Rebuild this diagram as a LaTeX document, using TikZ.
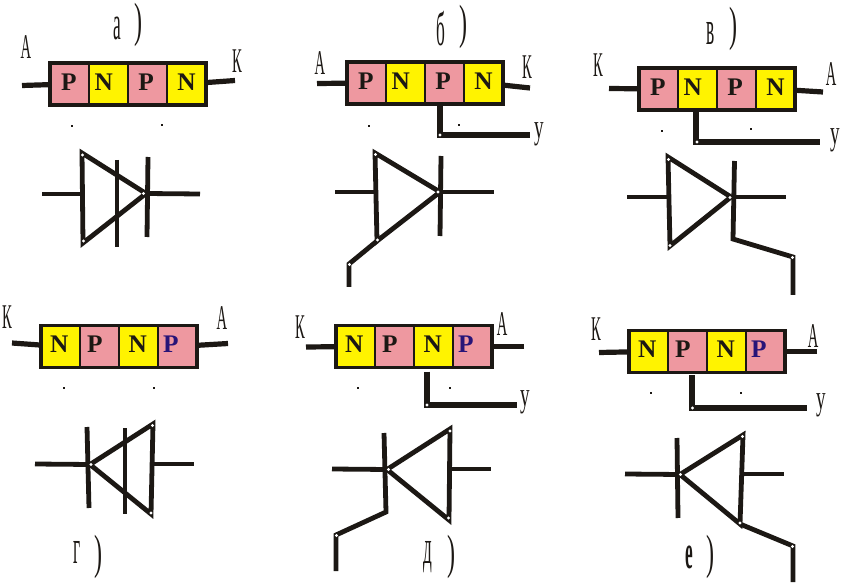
\documentclass[tikz,border=0pt]{standalone}
\usepackage{fontspec}
\setmainfont{Liberation Serif}
\definecolor{pk}{RGB}{238,152,160}
\definecolor{yl}{RGB}{255,243,0}
\definecolor{ink}{RGB}{28,24,20}
\definecolor{bl}{RGB}{40,20,120}
\newcommand{\cnd}[2]{\scalebox{#1}[1]{#2}}
\newcommand{\ltr}[2]{\raisebox{3pt}{\kern-#1pt #2\kern#1pt}}
\tikzset{
  x=0.75pt,y=-0.75pt,
  wire/.style={draw=ink,line width=3.9pt,line cap=butt,line join=miter},
  sym/.style={draw=ink,line width=3.6pt,line cap=butt,line join=miter},
  cell/.style={draw=ink,line width=1.6pt,minimum width=29.2pt,minimum height=31.5pt,inner sep=0pt,outer sep=0pt,font=\bfseries\fontsize{19}{19}\selectfont,text=ink},
  pcell/.style={cell,fill=pk},
  ncell/.style={cell,fill=yl},
  bcell/.style={cell,fill=pk,text=bl},
  frame/.style={draw=ink,line width=2.6pt},
  pole/.style={inner sep=0pt,text=ink,font=\fontsize{26}{26}\selectfont},
  gatel/.style={inner sep=0pt,text=ink,font=\fontsize{26}{26}\selectfont},
  capt/.style={inner sep=0pt,text=ink,font=\fontsize{36}{36}\selectfont},
  tick/.style={inner sep=0pt,minimum size=1.6pt,fill=ink},
  pin/.style={fill=white},
}
\newcommand{\upperrow}[3]{%
  \node[pcell] (#11) at (#2+19.5,#3+21) {\ltr{0.5}{P}};
  \node[ncell] (#12) at (#2+58.5,#3+21) {\ltr{3.5}{N}};
  \node[pcell] (#13) at (#2+97.5,#3+21) {\ltr{1}{P}};
  \node[ncell] (#14) at (#2+136.5,#3+21) {\ltr{0}{N}};
  \draw[frame] (#11.north west) rectangle (#14.south east);}
\newcommand{\lowerrow}[3]{%
  \node[ncell] (#11) at (#2+19.5,#3+21.5) {\ltr{1}{N}};
  \node[pcell] (#12) at (#2+58.5,#3+21.5) {\ltr{3.5}{P}};
  \node[ncell] (#13) at (#2+97.5,#3+21.5) {\ltr{0.5}{N}};
  \node[bcell] (#14) at (#2+136.5,#3+21.5) {\ltr{5}{P}};
  \draw[frame] (#11.north west) rectangle (#14.south east);}
\newcommand{\pins}[1]{\foreach \px/\py in {#1} {\fill[pin] (\px,\py) circle[radius=1.2pt];}}
\begin{document}
\begin{tikzpicture}
\useasboundingbox (0,0) rectangle (856,584);
\fill[white] (0,0) rectangle (856,584);

% ---------- a
\upperrow{a}{50}{63}
\coordinate (aL) at (22,85.5); \coordinate (aR) at (235,80.5);
\draw[wire] (aL) -- (a1); \draw[wire] (aR) -- (a4);
\node[pole] (aA) at (26,47) {\cnd{.42}{А}};
\node[pole] (aK) at (237,61) {\cnd{.42}{К}};
\node[capt] (aC) at (117,28) {\cnd{.36}{а}};
\node[capt] (aP) at (138,25) {\cnd{.5}{)}};
\node[tick] (ad1) at (72,126) {}; \node[tick] (ad2) at (162,125) {};
% symbol a
\coordinate (aT) at (82,153); \coordinate (aB) at (83,243); \coordinate (aX) at (146,193.5);
\coordinate (aE1) at (42,194); \coordinate (aE2) at (200,194);
\coordinate (aS1) at (117,160); \coordinate (aS2) at (117,247);
\coordinate (aS3) at (148,157); \coordinate (aS4) at (147,237);
\draw[sym] (aT) -- (aX) -- (aB) -- cycle;
\draw[sym] (aE1) -- (aT |- aE1); \draw[sym] (aX) -- (aE2);
\draw[sym] (aS1) -- (aS2); \draw[sym] (aS3) -- (aS4);
\pins{82.5/155, 83.5/241, 143.5/193.5}

% ---------- b
\upperrow{b}{347}{62}
\coordinate (bL) at (317,83.5); \coordinate (bR) at (530,88);
\draw[wire] (bL) -- (b1); \draw[wire] (bR) -- (b4);
\coordinate (bE) at (440,135); \coordinate (bY) at (530,135);
\draw[wire] (b3.south -| bE) -- (bE) -- (bY);
\node[pole] (bA) at (320,63) {\cnd{.42}{А}};
\node[pole] (bK) at (527,67) {\cnd{.42}{К}};
\node[gatel] (bU) at (539,134) {\cnd{.55}{у}};
\node[capt] (bC) at (441,29) {\cnd{.36}{б}};
\node[capt] (bP) at (463,27) {\cnd{.5}{)}};
\node[tick] (bd1) at (369,126) {}; \node[tick] (bd2) at (459,125) {};
% symbol b
\coordinate (bT) at (375,153); \coordinate (bB) at (377,241); \coordinate (bX) at (440,192);
\coordinate (bE1) at (335,192); \coordinate (bE2) at (494,192);
\coordinate (bS1) at (441,156); \coordinate (bS2) at (440,236);
\coordinate (bG1) at (349,264); \coordinate (bG2) at (349,287);
\draw[sym] (bT) -- (bX) -- (bB) -- cycle;
\draw[sym] (bE1) -- (bT |- bE1); \draw[sym] (bX) -- (bE2);
\draw[sym] (bS1) -- (bS2);
\draw[sym] (bB) -- (bG1) -- (bG2);
\pins{375.5/154.5, 377.5/240, 438/192, 440/135, 349.5/264.5}

% ---------- v
\upperrow{c}{639}{68}
\coordinate (cL) at (609,88.5); \coordinate (cR) at (823,92);
\draw[wire] (cL) -- (c1); \draw[wire] (cR) -- (c4);
\coordinate (cE) at (696,142); \coordinate (cY) at (820,142);
\draw[wire] (c2.south -| cE) -- (cE) -- (cY);
\node[pole] (cK) at (598,65) {\cnd{.42}{К}};
\node[pole] (cA) at (831,74) {\cnd{.42}{А}};
\node[gatel] (cU) at (835,140) {\cnd{.55}{у}};
\node[capt] (cC) at (711,33) {\cnd{.36}{в}};
\node[capt] (cP) at (733,29) {\cnd{.5}{)}};
\node[tick] (cd1) at (662,131) {}; \node[tick] (cd2) at (751,129) {};
% symbol v
\coordinate (cT) at (668,157); \coordinate (cB) at (670,246); \coordinate (cX) at (731,197);
\coordinate (cE1) at (627,197); \coordinate (cE2) at (786,197);
\coordinate (cS1) at (734.5,161); \coordinate (cS2) at (733,239);
\coordinate (cG1) at (793,257); \coordinate (cG2) at (793,295);
\draw[sym] (cT) -- (cX) -- (cB) -- cycle;
\draw[sym] (cE1) -- (cT |- cE1); \draw[sym] (cX) -- (cE2);
\draw[sym] (cS1) -- (cS2) -- (cG1) -- (cG2);
\pins{668.5/159.5, 670/245.5, 730/197.5, 697/142, 792.5/257.5}

% ---------- g
\lowerrow{d}{41}{325}
\coordinate (dL) at (12,343); \coordinate (dR) at (228,343.5);
\draw[wire] (dL) -- (d1); \draw[wire] (dR) -- (d4);
\node[pole] (dK) at (7,317) {\cnd{.42}{К}};
\node[pole] (dA) at (222,318) {\cnd{.42}{А}};
\node[capt] (dC) at (77,552) {\cnd{.36}{г}};
\node[capt] (dP) at (98,557) {\cnd{.5}{)}};
\node[tick] (dd1) at (64,388) {}; \node[tick] (dd2) at (154,388) {};
% symbol g
\coordinate (dT) at (153,424); \coordinate (dB) at (151,514); \coordinate (dX) at (90,464.5);
\coordinate (dE1) at (35,464); \coordinate (dE2) at (194,464);
\coordinate (dS1) at (87,427); \coordinate (dS2) at (89,508);
\coordinate (dS3) at (125,428); \coordinate (dS4) at (125,514);
\draw[sym] (dT) -- (dX) -- (dB) -- cycle;
\draw[sym] (dE1) -- (dX); \draw[sym] (dT |- dE2) -- (dE2);
\draw[sym] (dS1) -- (dS2); \draw[sym] (dS3) -- (dS4);
\pins{152.5/425.5, 151/513, 91/464.5}

% ---------- d
\lowerrow{e}{336}{325}
\coordinate (eL) at (306,347); \coordinate (eR) at (524,346.5);
\draw[wire] (eL) -- (e1); \draw[wire] (eR) -- (e4);
\coordinate (eE) at (427,405); \coordinate (eY) at (517,405);
\draw[wire,shorten <=3pt] (e3.south -| eE) -- (eE) -- (eY);
\node[pole] (eK) at (300,327) {\cnd{.42}{К}};
\node[pole] (eA) at (502,324) {\cnd{.42}{А}};
\node[gatel] (eU) at (525,402) {\cnd{.55}{у}};
\node[capt] (eC) at (428,557) {\cnd{.36}{д}};
\node[capt] (eP) at (451,557) {\cnd{.5}{)}};
\node[tick] (ed1) at (358,388) {}; \node[tick] (ed2) at (450,388) {};
% symbol d
\coordinate (eT) at (450,429); \coordinate (eB) at (449,520); \coordinate (eX) at (387,469.5);
\coordinate (eE1) at (332,469); \coordinate (eE2) at (491,469);
\coordinate (eS1) at (384,433); \coordinate (eS2) at (386,512);
\coordinate (eG1) at (336,535); \coordinate (eG2) at (336,571);
\draw[sym] (eT) -- (eX) -- (eB) -- cycle;
\draw[sym] (eE1) -- (eX); \draw[sym] (eT |- eE2) -- (eE2);
\draw[sym] (eS1) -- (eS2) -- (eG1) -- (eG2);
\pins{450/431, 448.5/518, 388.5/469.5, 427/405, 336.5/535.5}

% ---------- e
\lowerrow{f}{629}{330}
\coordinate (fL) at (599,352.5); \coordinate (fR) at (817,351.5);
\draw[wire] (fL) -- (f1); \draw[wire] (fR) -- (f4);
\coordinate (fE) at (692,408); \coordinate (fY) at (807,408);
\draw[wire,shorten <=2pt] (f2.south -| fE) -- (fE) -- (fY);
\node[pole] (fK) at (596,329) {\cnd{.42}{К}};
\node[pole] (fA) at (813,336) {\cnd{.42}{А}};
\node[gatel] (fU) at (821,405) {\cnd{.55}{у}};
\node[capt] (fC) at (689,557) {\bfseries\cnd{.36}{е}};
\node[capt] (fP) at (710,557) {\cnd{.5}{)}};
\node[tick] (fd1) at (651,393) {}; \node[tick] (fd2) at (741,393) {};
% symbol e
\coordinate (fT) at (743,435); \coordinate (fB) at (740,524); \coordinate (fX) at (680,474.5);
\coordinate (fE1) at (625,474); \coordinate (fE2) at (784,474);
\coordinate (fS1) at (677,438); \coordinate (fS2) at (678,518);
\coordinate (fG1) at (793,546); \coordinate (fG2) at (793,582);
\draw[sym] (fT) -- (fX) -- (fB) -- cycle;
\draw[sym] (fE1) -- (fX); \draw[sym] (fT |- fE2) -- (fE2);
\draw[sym] (fS1) -- (fS2);
\draw[sym] (fB) -- (fG1) -- (fG2);
\pins{742.5/436.5, 740/523, 680.5/474.5, 692.5/408, 792.5/546.5}
\end{tikzpicture}
\end{document}
